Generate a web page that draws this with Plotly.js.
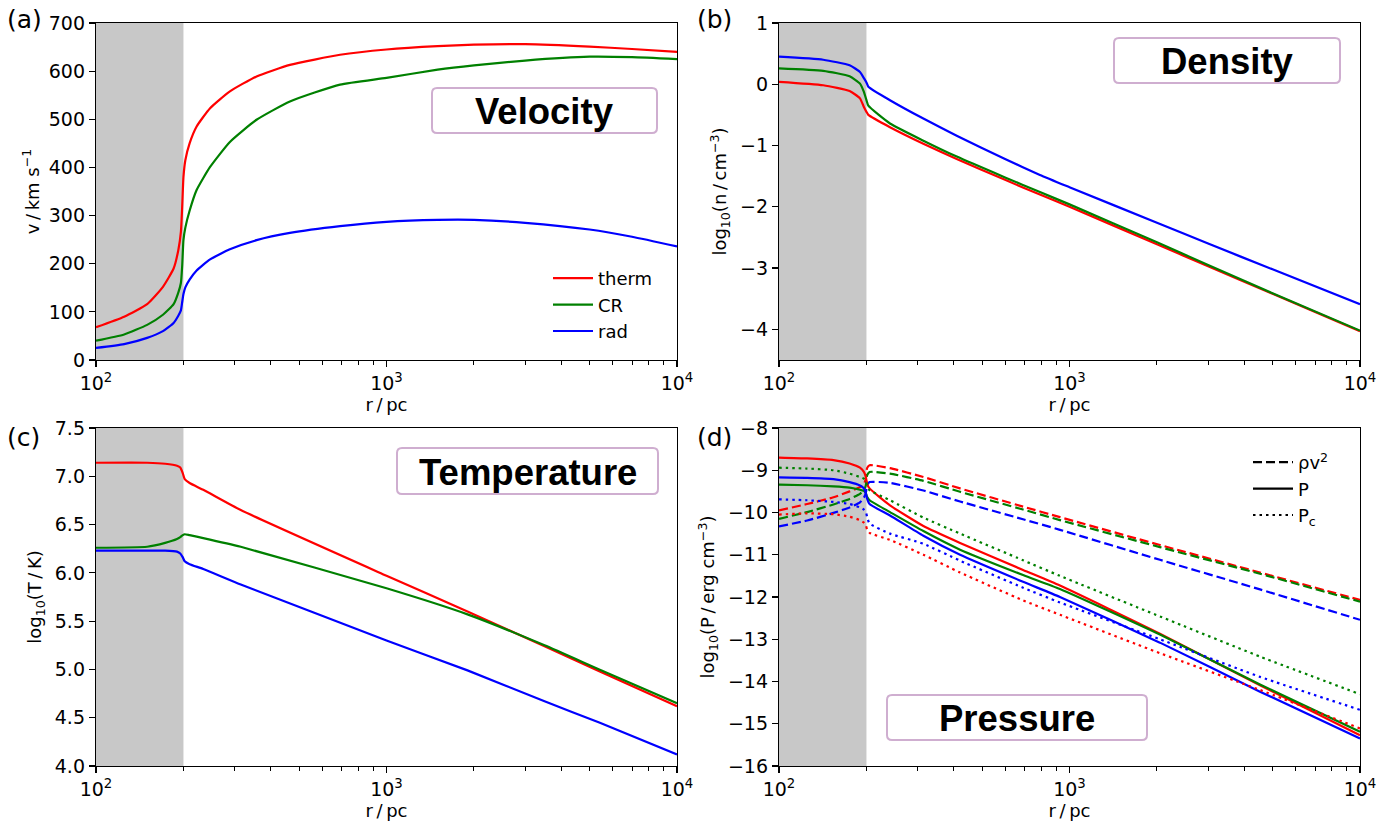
<!DOCTYPE html>
<html>
<head>
<meta charset="utf-8">
<script src="https://cdn.plot.ly/plotly-3.0.1.min.js"></script>
<style>html,body{margin:0;padding:0;background:#fff;}#chart{width:1377px;height:828px;}</style>
</head>
<body>
<div id="chart"></div>
<script>
// ---------- data ----------
// (a) velocity, km/s
var rA = [100,125,150,170,185,192,196,198,200,203,210,222,247,289,357,465,692,1000,1500,2000,3000,5000,7000,10000];
var vTherm = [68,90,116,152,190,228,266,318,380,415,450,485,523,558,589,613,634,645,652,655,656,651,646,640];
var vCR    = [40,53,73,94,116,140,160,195,249,275,310,353,401,453,499,537,572,586,603,612,622,630,629,625];
var vRad   = [25,33,46,60,77,92,103,120,137,151,167,186,209,230,249,264,278,287,291,291,285,271,256,236];

// (b) log10 density
var rB = [100,142,175,190,196,200,203,241,314,409,600,791,1000,2000,3000,5000,10000];
var nTherm = [0.04,-0.016,-0.11,-0.23,-0.37,-0.45,-0.50,-0.70,-0.97,-1.22,-1.56,-1.80,-2.0,-2.61,-2.97,-3.42,-4.03];
var nCR    = [0.26,0.22,0.13,0.01,-0.125,-0.26,-0.35,-0.64,-0.92,-1.18,-1.52,-1.76,-1.96,-2.58,-2.95,-3.41,-4.02];
var nRad   = [0.45,0.40,0.31,0.20,0.10,0.03,-0.04,-0.26,-0.56,-0.84,-1.22,-1.48,-1.68,-2.26,-2.60,-3.02,-3.59];

// (c) log10 temperature
var rC = [100,150,173,190,195,199,202,210,234,315,1000,1900,3500,5400,10000];
var tTherm = [7.14,7.14,7.13,7.11,7.09,7.03,6.97,6.93,6.86,6.65,5.97,5.60,5.24,4.98,4.62];
var tCR    = [6.26,6.27,6.31,6.35,6.37,6.39,6.40,6.39,6.36,6.27,5.84,5.57,5.25,5.00,4.65];
var tRad   = [6.23,6.23,6.23,6.22,6.20,6.16,6.12,6.09,6.04,5.88,5.30,4.99,4.67,4.45,4.12];

// (d) log10 pressure: ram (rho v^2), gas (P), cosmic ray (Pc)
var rD = [100,125,154,175,190,196,199,201,205,241,314,420,692,927,2048,4526,10000];
var ramTherm = [-9.95,-9.8,-9.64,-9.5,-9.4,-9.33,-9.2,-8.95,-8.88,-8.95,-9.16,-9.43,-9.86,-10.11,-10.77,-11.42,-12.07];
var ramCR    = [-10.15,-9.99,-9.81,-9.68,-9.56,-9.47,-9.36,-9.12,-9.04,-9.08,-9.25,-9.51,-9.93,-10.18,-10.82,-11.45,-12.11];
var ramRad   = [-10.33,-10.19,-10.01,-9.88,-9.76,-9.65,-9.54,-9.36,-9.28,-9.3,-9.48,-9.74,-10.16,-10.41,-11.12,-11.82,-12.54];
var pTherm = [-8.70,-8.72,-8.76,-8.84,-8.94,-9.04,-9.16,-9.32,-9.43,-9.83,-10.32,-10.72,-11.36,-11.73,-12.87,-14.09,-15.27];
var pCR    = [-9.34,-9.355,-9.38,-9.41,-9.46,-9.49,-9.54,-9.63,-9.71,-9.99,-10.44,-10.88,-11.48,-11.81,-12.89,-14.07,-15.19];
var pRad   = [-9.17,-9.18,-9.21,-9.28,-9.36,-9.43,-9.54,-9.67,-9.8,-10.07,-10.55,-11.0,-11.64,-12.0,-13.08,-14.24,-15.35];
var pcTherm = [-10.05,-10.02,-10.04,-10.1,-10.18,-10.24,-10.3,-10.4,-10.48,-10.65,-11.0,-11.42,-12.08,-12.42,-13.33,-14.2,-15.11];
var pcCR    = [-8.94,-8.96,-9.0,-9.08,-9.16,-9.2,-9.25,-9.36,-9.47,-9.71,-10.12,-10.5,-11.13,-11.5,-12.46,-13.41,-14.3];
var pcRad   = [-9.69,-9.71,-9.75,-9.8,-9.88,-9.93,-9.98,-10.1,-10.26,-10.5,-10.74,-11.14,-11.78,-12.13,-13.0,-13.89,-14.67];

var seriesNames = ['therm','CR','rad'];
var pressureLabels = ['\u03c1v<sup>2</sup>','P','P<sub>c</sub>'];
var xTickVals = [100,1000,10000];
var xTickText = ['10<sup>2</sup>','10<sup>3</sup>','10<sup>4</sup>'];
var xMinorVals = [200,300,400,500,600,700,800,900,2000,3000,4000,5000,6000,7000,8000,9000];
var shadeRange = [100,200];

// ---------- styling ----------
var W = 1377, H = 828;
var COLORS = ['#ff0000','#008000','#0000ff'];
var LW = 2.2;
var DASH = '9px,4px', DOT = '2.5px,4px';
var FONT = 'DejaVu Sans, sans-serif';
var TICK = 19, TITLE = 18;

var traces = [];
function addLine(x, y, xa, ya, color, dash, name, show, legendId){
  traces.push({
    type:'scatter', mode:'lines', x:x, y:y, xaxis:xa, yaxis:ya,
    line:{color:color, width:LW, dash:dash||'solid', shape:'spline', smoothing:0.5},
    name:name||'', showlegend:!!show, legend:legendId||'legend',
    legendgroup:name||undefined, hoverinfo:'skip'
  });
}
// (a)
addLine(rA, vTherm, 'x', 'y', COLORS[0], 'solid', seriesNames[0], true, 'legend');
addLine(rA, vCR,    'x', 'y', COLORS[1], 'solid', seriesNames[1], true, 'legend');
addLine(rA, vRad,   'x', 'y', COLORS[2], 'solid', seriesNames[2], true, 'legend');
// (b)
addLine(rB, nTherm, 'x2', 'y2', COLORS[0]);
addLine(rB, nCR,    'x2', 'y2', COLORS[1]);
addLine(rB, nRad,   'x2', 'y2', COLORS[2]);
// (c)
addLine(rC, tTherm, 'x3', 'y3', COLORS[0]);
addLine(rC, tCR,    'x3', 'y3', COLORS[1]);
addLine(rC, tRad,   'x3', 'y3', COLORS[2]);
// (d)
var ramSets = [ramTherm, ramCR, ramRad];
var pSets = [pTherm, pCR, pRad];
var pcSets = [pcTherm, pcCR, pcRad];
for (var i=0;i<3;i++){ addLine(rD, ramSets[i], 'x4','y4', COLORS[i], DASH); }
for (var i=0;i<3;i++){ addLine(rD, pSets[i],   'x4','y4', COLORS[i], 'solid'); }
for (var i=0;i<3;i++){ addLine(rD, pcSets[i],  'x4','y4', COLORS[i], DOT); }
// legend entries for (d) (black keys)
var keyDash = [DASH,'solid',DOT];
for (var i=0;i<3;i++){
  traces.push({type:'scatter', mode:'lines', x:[null], y:[null], xaxis:'x4', yaxis:'y4',
    line:{color:'#000000', width:LW, dash:keyDash[i]}, name:pressureLabels[i],
    showlegend:true, legend:'legend2', legendgroup:'k'+i, hoverinfo:'skip'});
}

// ---------- axes ----------
var xDomL = [96/W, 677/W], xDomR = [779/W, 1360/W];
var yDomT = [1-360/H, 1-23/H], yDomB = [1-766/H, 1-428/H];
function xAxis(domain, anchor){
  return {domain:domain, anchor:anchor, type:'log', range:[2,4],
    tickmode:'array', tickvals:xTickVals, ticktext:xTickText,
    ticks:'outside', ticklen:6, tickwidth:1.2, tickcolor:'#000',
    minor:{tickmode:'array', tickvals:xMinorVals, ticks:'outside', ticklen:3.5, tickwidth:1, tickcolor:'#000', showgrid:false},
    showline:true, linecolor:'#000', linewidth:1.2, mirror:true, showgrid:false, zeroline:false,
    tickfont:{family:FONT, size:TICK, color:'#000'},
    title:{text:'r\u2009/\u2009pc', font:{family:FONT, size:TITLE, color:'#000'}, standoff:4},
    fixedrange:true};
}
function yAxis(domain, anchor, range, dtick, title, fmt, standoff){
  var o = {domain:domain, anchor:anchor, range:range, tickmode:'linear', tick0:0, dtick:dtick,
    ticks:'outside', ticklen:6, tickwidth:1.2, tickcolor:'#000',
    showline:true, linecolor:'#000', linewidth:1.2, mirror:true, showgrid:false, zeroline:false,
    tickfont:{family:FONT, size:TICK, color:'#000'},
    title:{text:title, font:{family:FONT, size:TITLE, color:'#000'}, standoff:standoff},
    fixedrange:true};
  if (fmt) o.tickformat = fmt;
  return o;
}

// ---------- decorations ----------
var shapes = [];
[['x','y'],['x2','y2'],['x3','y3'],['x4','y4']].forEach(function(p){
  shapes.push({type:'rect', xref:p[0], yref:p[1]+' domain', x0:shadeRange[0], x1:shadeRange[1], y0:0, y1:1,
    fillcolor:'#c8c8c8', line:{width:0}, layer:'below'});
});
function roundBox(x0,y0,x1,y1,r){
  function X(v){return (v/W).toFixed(5);} function Y(v){return (1-v/H).toFixed(5);}
  var d = 'M'+X(x0+r)+','+Y(y0)+' L'+X(x1-r)+','+Y(y0)+' Q'+X(x1)+','+Y(y0)+' '+X(x1)+','+Y(y0+r)+
    ' L'+X(x1)+','+Y(y1-r)+' Q'+X(x1)+','+Y(y1)+' '+X(x1-r)+','+Y(y1)+
    ' L'+X(x0+r)+','+Y(y1)+' Q'+X(x0)+','+Y(y1)+' '+X(x0)+','+Y(y1-r)+
    ' L'+X(x0)+','+Y(y0+r)+' Q'+X(x0)+','+Y(y0)+' '+X(x0+r)+','+Y(y0)+' Z';
  return {type:'path', xref:'paper', yref:'paper', path:d, fillcolor:'#ffffff', line:{color:'#cfaed0', width:2}, layer:'above'};
}
var boxes = [
  {t:'Velocity',    b:[432,88,657,133]},
  {t:'Density',     b:[1114,38,1340,83]},
  {t:'Temperature', b:[397,448,658,494]},
  {t:'Pressure',    b:[887,695,1147,740]}
];
var annotations = [];
boxes.forEach(function(bx){
  shapes.push(roundBox(bx.b[0],bx.b[1],bx.b[2],bx.b[3],5));
  annotations.push({xref:'paper', yref:'paper', x:(bx.b[0]+bx.b[2])/2/W, y:1-((bx.b[1]+bx.b[3])/2+1)/H,
    xanchor:'center', yanchor:'middle', showarrow:false, text:bx.t,
    font:{family:'Liberation Sans, Arial, sans-serif', size:36.5, color:'#000', weight:'bold'}});
});
var panelLabels = [['(a)',5,20],['(b)',695,20],['(c)',5,437],['(d)',695,437]];
panelLabels.forEach(function(p){
  annotations.push({xref:'paper', yref:'paper', x:p[1]/W, y:1-p[2]/H, xanchor:'left', yanchor:'middle',
    showarrow:false, text:p[0], font:{family:FONT, size:25, color:'#000'}});
});

var layout = {
  width:W, height:H, margin:{l:0,r:0,t:0,b:0}, paper_bgcolor:'#fff', plot_bgcolor:'rgba(0,0,0,0)',
  showlegend:true,
  xaxis:xAxis(xDomL,'y'), yaxis:yAxis(yDomT,'x',[0,700],100,'v\u2009/\u2009km s<sup>\u22121</sup>',null,4),
  xaxis2:xAxis(xDomR,'y2'), yaxis2:yAxis(yDomT,'x2',[-4.5,1],1,'log<sub>10</sub>(n\u2009/\u2009cm<sup>\u22123</sup>)',null,8),
  xaxis3:xAxis(xDomL,'y3'), yaxis3:yAxis(yDomB,'x3',[4,7.5],0.5,'log<sub>10</sub>(T\u2009/\u2009K)','.1f',8),
  xaxis4:xAxis(xDomR,'y4'), yaxis4:yAxis(yDomB,'x4',[-16,-8],1,'log<sub>10</sub>(P\u2009/\u2009erg cm<sup>\u22123</sup>)',null,8),
  legend:{x:548/W, y:1-260/H, xanchor:'left', yanchor:'top', bgcolor:'rgba(0,0,0,0)', borderwidth:0,
    font:{family:FONT, size:18, color:'#000'}, tracegroupgap:4, itemwidth:40, traceorder:'normal'},
  legend2:{x:1248/W, y:1-444/H, xanchor:'left', yanchor:'top', bgcolor:'rgba(0,0,0,0)', borderwidth:0,
    font:{family:FONT, size:18, color:'#000'}, tracegroupgap:4, itemwidth:40, traceorder:'normal'},
  shapes:shapes, annotations:annotations
};
Plotly.newPlot('chart', traces, layout, {staticPlot:true, displayModeBar:false});
</script>
</body>
</html>
